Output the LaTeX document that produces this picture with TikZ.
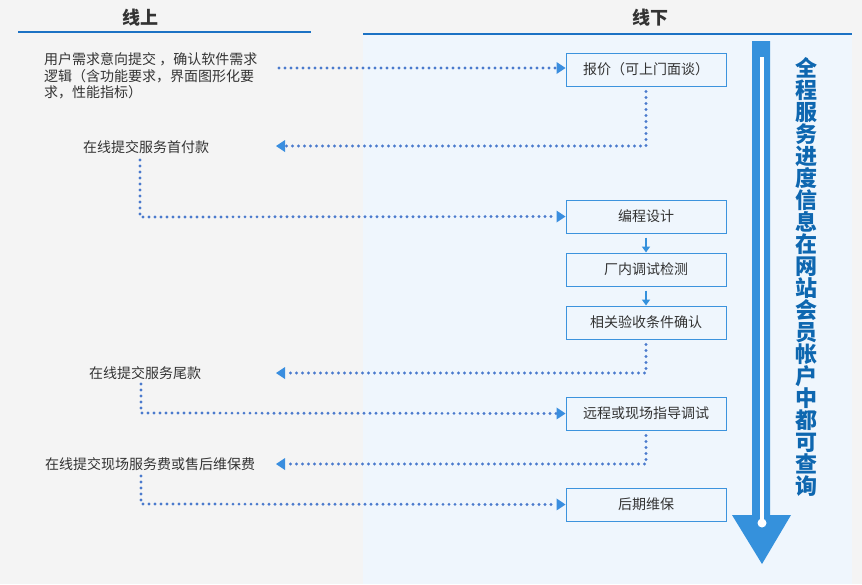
\documentclass[tikz,border=0pt]{standalone}
\usepackage{fontspec}
\setmainfont{Noto Sans CJK SC}
\usetikzlibrary{arrows.meta}
\definecolor{bgL}{HTML}{F4F4F4}
\definecolor{bgR}{HTML}{EFF6FD}
\definecolor{hline}{HTML}{1C72C4}
\definecolor{boxc}{HTML}{3C93DD}
\definecolor{dotc}{HTML}{4A7ACD}
\definecolor{tipc}{HTML}{3A8EDF}
\definecolor{txt}{HTML}{333333}
\definecolor{bigc}{HTML}{3591DC}
\definecolor{vtxt}{HTML}{0E67B0}
\tikzset{
  stepbox/.style={draw=boxc, line width=1pt, fill=bgR, minimum width=160pt, minimum height=33pt, inner sep=0pt, text=txt, font=\fontsize{14}{16}\selectfont},
  lefttext/.style={text=txt, font=\fontsize{14}{16.5}\selectfont, inner sep=0pt},
  dotline/.style={draw=dotc, line width=3.2pt, line cap=round, dash pattern=on 0pt off 6pt, -{Triangle[length=9pt,width=12pt,line width=0pt,fill=tipc,color=tipc]}},
  smallarrow/.style={draw=bigc, line width=2pt, -{Triangle[length=6pt,width=8pt]}},
  head/.style={text=txt, font=\fontsize{18}{20}\selectfont\bfseries, inner sep=0pt}
}
\begin{document}
\begin{tikzpicture}[x=1pt,y=-1pt]
\useasboundingbox (0,0) rectangle (862,584);
\fill[bgL] (0,0) rectangle (862,584);
\fill[bgR] (363,34) rectangle (852,584);
\draw[hline, line width=1.2pt] (18,32) -- (311,32);
\draw[hline, line width=1.2pt] (363,34) -- (852,34);
\node[head] (hon) at (140,18) {线上};
\node[head] (hoff) at (650,18) {线下};

% boxes
\node[stepbox] (b1) at (646,69.5) {报价（可上门面谈）};
\node[stepbox] (b2) at (646,216.5) {编程设计};
\node[stepbox] (b3) at (646,269.5) {厂内调试检测};
\node[stepbox] (b4) at (646,322.5) {相关验收条件确认};
\node[stepbox] (b5) at (646,413.5) {远程或现场指导调试};
\node[stepbox] (b6) at (646,504.5) {后期维保};

% left texts
\node[lefttext, align=left, anchor=north west] (t0) at (44,52.5) {用户需求意向提交 ，确认软件需求\\逻辑（含功能要求，界面图形化要\\求，性能指标）};
\node[lefttext] (t1) at (146,147) {在线提交服务首付款};
\node[lefttext] (t2) at (145,373) {在线提交服务尾款};
\node[lefttext] (t3) at (150,464) {在线提交现场服务费或售后维保费};

% coordinates
\coordinate (c0) at (279,68);
\coordinate (c1a) at (646,146);
\coordinate (c1b) at (276,146);
\coordinate (c2a) at (140,160);
\coordinate (c2b) at (140,217);
\coordinate (c3a) at (646,373);
\coordinate (c3b) at (276,373);
\coordinate (c4a) at (141,384);
\coordinate (c4b) at (141,413);
\coordinate (c5a) at (646,464);
\coordinate (c5b) at (276,464);
\coordinate (c6a) at (141,476);
\coordinate (c6b) at (141,504);

\draw[dotline] (c0) -- (b1.west |- c0);
\draw[dotline] ([yshift=-5pt]b1.south) -- (c1a) -- (c1b);
\draw[dotline] (c2a) -- (c2b) -- (b2.west);
\draw[dotline] ([yshift=-5pt]b4.south) -- (c3a) -- (c3b);
\draw[dotline] (c4a) -- (c4b) -- (b5.west);
\draw[dotline] ([yshift=-5pt]b5.south) -- (c5a) -- (c5b);
\draw[dotline] (c6a) -- (c6b) -- (b6.west);

\draw[smallarrow] ([yshift=-4pt]b2.south) -- (b3.north);
\draw[smallarrow] ([yshift=-4pt]b3.south) -- (b4.north);

% big arrow
\fill[bigc] (752,41) -- (770,41) -- (770,515) -- (791,515) -- (762,564) -- (732,515) -- (752,515) -- cycle;
\fill[white] (760,57) rectangle (764,523);
\fill[white] (762,523) circle (4.5);

\node[text=vtxt, font=\fontsize{22}{22}\selectfont\bfseries, align=center, inner sep=0pt, anchor=north] (vt) at (806,57) {全\\程\\服\\务\\进\\度\\信\\息\\在\\网\\站\\会\\员\\帐\\户\\中\\都\\可\\查\\询};
\end{tikzpicture}
\end{document}
